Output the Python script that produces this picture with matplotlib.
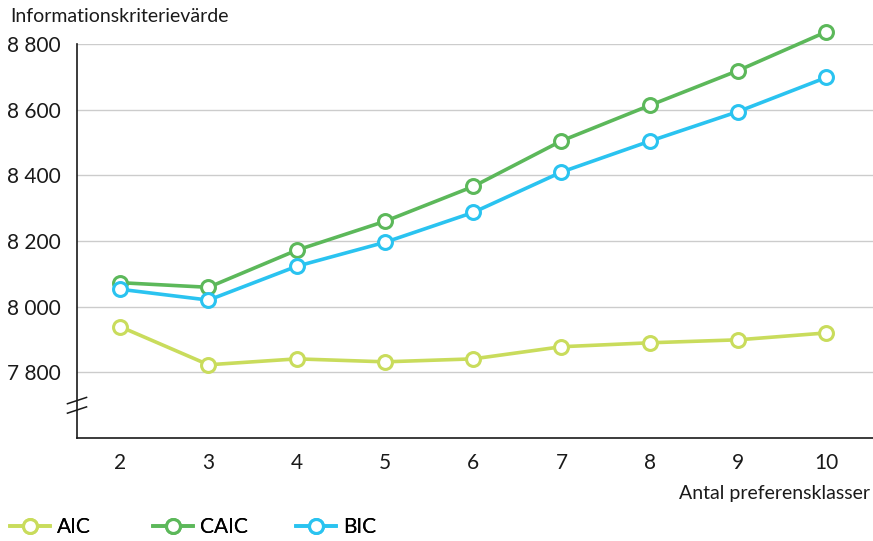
import matplotlib
matplotlib.use("Agg")
import matplotlib.pyplot as plt
from matplotlib.ticker import FuncFormatter

plt.rcParams["font.family"] = ["Lato", "DejaVu Sans"]

klasser = [2, 3, 4, 5, 6, 7, 8, 9, 10]
aic = [7939, 7823, 7841, 7832, 7841, 7878, 7890, 7899, 7920]
caic = [8073, 8059, 8172, 8260, 8366, 8505, 8613, 8719, 8837]
bic = [8053, 8020, 8123, 8196, 8287, 8410, 8504, 8594, 8698]

yticks = [7800, 8000, 8200, 8400, 8600, 8800]

fig = plt.figure(figsize=(8.73, 5.41), dpi=100)
ax = fig.add_axes([77 / 873, 1 - 438 / 541, 1 - 77 / 873, (438 - 44) / 541])

series = [("AIC", aic, "#c9dc5c"), ("CAIC", caic, "#5cb85a"), ("BIC", bic, "#2ac3f0")]
handles = []
for name, vals, col in series:
    h, = ax.plot(klasser, vals, color=col, lw=2.6, marker="o", ms=10,
                 mfc="white", mec=col, mew=2.2, label=name, clip_on=False, zorder=3)
    handles.append(h)

ax.set_xlim(1.51, 10.53)
ax.set_ylim(7600, 8800)
ax.set_xticks(klasser)
ax.set_yticks(yticks)
ax.yaxis.set_major_formatter(FuncFormatter(lambda v, p: f"{int(v):,}".replace(",", " ")))
ax.grid(axis="y", color="#cccccc", lw=1)
ax.set_axisbelow(True)
ax.tick_params(axis="both", length=0, labelsize=15, colors="#1a1a1a")
ax.tick_params(axis="x", pad=11)
ax.tick_params(axis="y", pad=12)
for s in ["top", "right"]:
    ax.spines[s].set_visible(False)
for s in ["left", "bottom"]:
    ax.spines[s].set_linewidth(1.2)
    ax.spines[s].set_color("#1a1a1a")

# axis break mark
for dy in (-0.012, 0.012):
    ax.plot([-0.012, 0.012], [0.083 + dy - 0.008, 0.083 + dy + 0.008],
            transform=ax.transAxes, color="#1a1a1a", lw=1.1, clip_on=False)

fig.text(10 / 873, 1 - 17 / 541, "Informationskriterievärde", fontsize=14,
         va="center", ha="left", color="#1a1a1a")
fig.text(870 / 873, 1 - 493 / 541, "Antal preferensklasser", fontsize=14,
         va="center", ha="right", color="#1a1a1a")

# one legend per series, placed at fixed positions
for h, x0 in zip(handles, [10, 153, 296]):
    fig.add_artist(fig.legend([h], [h.get_label()], loc="center left",
                              bbox_to_anchor=(x0 / 873, 1 - 527 / 541),
                              frameon=False, fontsize=15, handlelength=1.9,
                              handletextpad=0.35, borderaxespad=0, borderpad=0))

fig.savefig("out.png", dpi=100)
